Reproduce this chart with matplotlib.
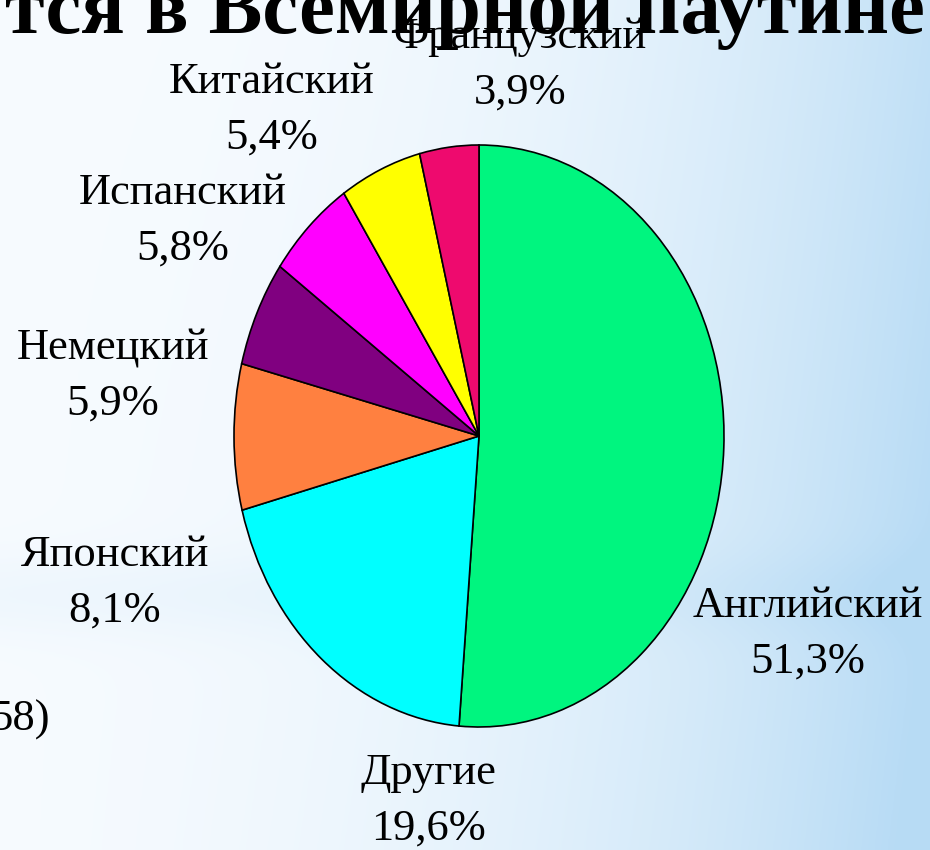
import numpy as np
import matplotlib.pyplot as plt

# data
languages = ['Английский', 'Другие', 'Японский', 'Немецкий', 'Испанский', 'Китайский', 'Французский']
shares = [51.3, 19.6, 8.1, 5.9, 5.8, 5.4, 3.9]
colors = ['#00F57F', '#00FFFF', '#FF8040', '#800080', '#FF00FF', '#FFFF00', '#EE0A6E']
label_xy = [(808, 634), (428, 801), (115, 583), (113, 376), (183, 221), (272, 110), (520, 65)]

W, H = 930, 850
fig = plt.figure(figsize=(W / 100, H / 100), dpi=100)

# background gradient
bg = fig.add_axes([0, 0, 1, 1])
xx, yy = np.meshgrid(np.linspace(0, 1, 300), np.linspace(0, 1, 300))
t = 0.03 + 0.80 * xx ** 2.6 + 0.25 * yy * xx + 0.12 * np.exp(-((yy - 0.70) / 0.05) ** 2)
t = np.clip(t, 0, 1)
c0 = np.array([0.975, 0.988, 1.0])
c1 = np.array([0.72, 0.86, 0.96])
img = c0 + (c1 - c0) * t[..., None]
bg.imshow(img, extent=[0, 1, 0, 1], aspect='auto', origin='upper')
bg.axis('off')

# pie (slightly elliptical)
left, top, pw, ph = 234, 145, 490, 582
ax = fig.add_axes([left / W, (H - top - ph) / H, pw / W, ph / H])
ax.pie(shares, colors=colors, startangle=90, counterclock=False,
       wedgeprops=dict(edgecolor='black', linewidth=1.2))
ax.set_aspect('auto')
ax.set_xlim(-1, 1)
ax.set_ylim(-1, 1)
ax.axis('off')

font = dict(family='Liberation Serif', fontsize=32, color='black')
for lang, val, (x, y) in zip(languages, shares, label_xy):
    txt = lang + '\n' + f'{val:.1f}'.replace('.', ',') + '%'
    fig.text(x / W, 1 - y / H, txt, ha='center', va='center', linespacing=1.5, **font)

# clipped title and footnote fragment
fig.text(465 / W, 1 - 33 / H, 'тся в Всемирной паутине', ha='center', va='baseline',
         family='Liberation Serif', fontweight='bold', fontsize=58)
fig.text(50 / W, 1 - 720 / H, '58)', ha='right', va='center', **font)

fig.savefig('out.png', dpi=100)
